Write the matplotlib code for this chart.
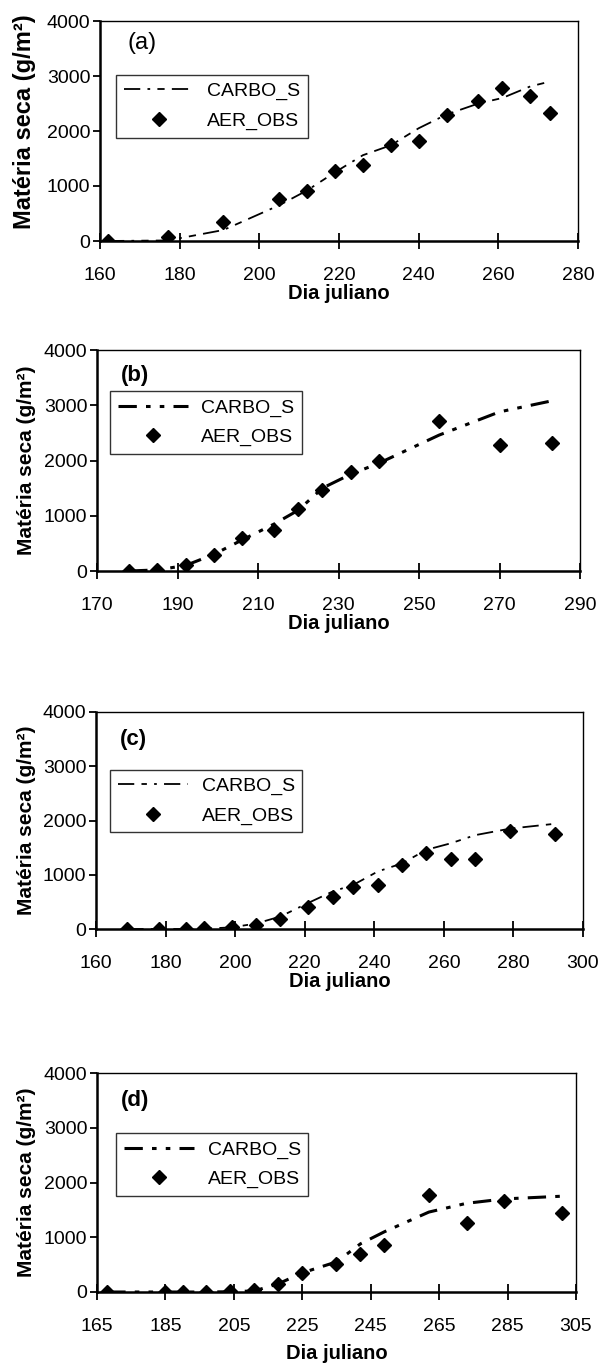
import matplotlib
matplotlib.use("Agg")
from matplotlib import pyplot as plt

plt.rcParams["font.family"] = ["Liberation Sans", "DejaVu Sans"]

# (a)
days_a = [162, 177, 191, 205, 212, 219, 226, 233, 240, 247, 255, 261, 268, 273]
obs_a = [0, 70, 345, 770, 910, 1270, 1390, 1750, 1820, 2290, 2550, 2780, 2640, 2330]
sim_a = [0, 10, 200, 650, 920, 1250, 1560, 1740, 2050, 2300, 2500, 2600, 2810, 2900]

# (b)
days_b = [178, 185, 192, 199, 206, 214, 220, 226, 233, 240, 255, 270, 283]
obs_b = [0, 25, 110, 290, 590, 750, 1120, 1470, 1800, 2000, 2710, 2280, 2320]
sim_b = [0, 20, 100, 300, 560, 850, 1100, 1500, 1750, 1950, 2460, 2880, 3080]

# (c)
days_c = [169, 178, 186, 191, 199, 206, 213, 221, 228, 234, 241, 248, 255, 262, 269, 279, 292]
obs_c = [0, 0, 0, 10, 45, 80, 190, 400, 590, 770, 810, 1180, 1410, 1290, 1290, 1810, 1760]
sim_c = [0, 0, 0, 5, 30, 100, 230, 480, 690, 815, 1060, 1210, 1460, 1580, 1730, 1850, 1940]

# (d)
days_d = [168, 185, 190, 197, 204, 211, 218, 225, 235, 242, 249, 262, 273, 284, 301]
obs_d = [0, 0, 0, 0, 15, 30, 155, 340, 520, 700, 860, 1770, 1260, 1660, 1440]
sim_d = [0, 0, 0, 0, 5, 20, 150, 350, 550, 880, 1100, 1460, 1620, 1700, 1750]

panels = [
    dict(days=days_a, obs=obs_a, sim=sim_a, label="(a)", bold=False, lab_size=17,
         ylab_size=17, ylab_y=0.543,
         xlim=(160, 280), xticks=[160, 180, 200, 220, 240, 260, 280],
         rect=[100, 21, 578, 241], leg=(0.033, 0.755), lw=1.3,
         dashes=(9, 4, 1.5, 4, 4, 4), lab_pos=(0.058, 0.90)),
    dict(days=days_b, obs=obs_b, sim=sim_b, label="(b)", bold=True, lab_size=16,
         ylab_size=15, ylab_y=0.5,
         xlim=(170, 290), xticks=[170, 190, 210, 230, 250, 270, 290],
         rect=[97, 350, 580, 571], leg=(0.027, 0.814), lw=2.2,
         dashes=(6, 3, 1.5, 3, 1.5, 3), lab_pos=(0.05, 0.885)),
    dict(days=days_c, obs=obs_c, sim=sim_c, label="(c)", bold=True, lab_size=16,
         ylab_size=15, ylab_y=0.5,
         xlim=(160, 300), xticks=[160, 180, 200, 220, 240, 260, 280, 300],
         rect=[96, 712, 583, 929], leg=(0.029, 0.735), lw=1.3,
         dashes=(9, 4, 3, 4, 1.5, 4), lab_pos=(0.05, 0.875)),
    dict(days=days_d, obs=obs_d, sim=sim_d, label="(d)", bold=True, lab_size=16,
         ylab_size=15, ylab_y=0.5,
         xlim=(165, 305), xticks=[165, 185, 205, 225, 245, 265, 285, 305],
         rect=[97, 1073, 576, 1292], leg=(0.040, 0.725), lw=2.2,
         dashes=(6, 3, 1.5, 3, 1.5, 3), lab_pos=(0.05, 0.875)),
]

W, H = 602, 1364
fig = plt.figure(figsize=(W / 100, H / 100), dpi=100)

for p in panels:
    x0, y0, x1, y1 = p["rect"]
    ax = fig.add_axes([x0 / W, 1 - y1 / H, (x1 - x0) / W, (y1 - y0) / H])

    ax.plot(p["days"], p["sim"], color="black", lw=p["lw"],
            dashes=p["dashes"], label="CARBO_S")
    ax.plot(p["days"], p["obs"], "D", color="black", markersize=7.5,
            label="AER_OBS")

    ax.set_xlim(*p["xlim"])
    ax.set_ylim(0, 4000)
    ax.set_xticks(p["xticks"])
    ax.set_yticks([0, 1000, 2000, 3000, 4000])
    ax.tick_params(axis="x", direction="inout", length=12, width=1.3,
                   labelsize=14, pad=13)
    ax.tick_params(axis="y", direction="out", length=5, width=1.3,
                   labelsize=14, pad=2)
    for side in ["left", "bottom"]:
        ax.spines[side].set_linewidth(1.8)
    for side in ["top", "right"]:
        ax.spines[side].set_linewidth(1.0)

    ax.set_ylabel("Matéria seca (g/m²)", fontsize=p["ylab_size"], fontweight="bold")
    ax.yaxis.set_label_coords((36 - x0) / (x1 - x0), p["ylab_y"])
    ax.set_xlabel("Dia juliano", fontsize=14.5, fontweight="bold",
                  labelpad=0 if p["label"] != "(d)" else 6)

    ax.text(p["lab_pos"][0], p["lab_pos"][1], p["label"], transform=ax.transAxes,
            fontsize=p["lab_size"], fontweight="bold" if p["bold"] else "normal",
            va="center", ha="left")

    leg = ax.legend(loc="upper left", bbox_to_anchor=p["leg"], borderaxespad=0,
                    frameon=True, fancybox=False, edgecolor="black",
                    fontsize=14, handlelength=3.6, handletextpad=0.7,
                    borderpad=0.4, labelspacing=0.6)
    leg.get_frame().set_linewidth(1.0)

fig.savefig("out.png", dpi=100)
